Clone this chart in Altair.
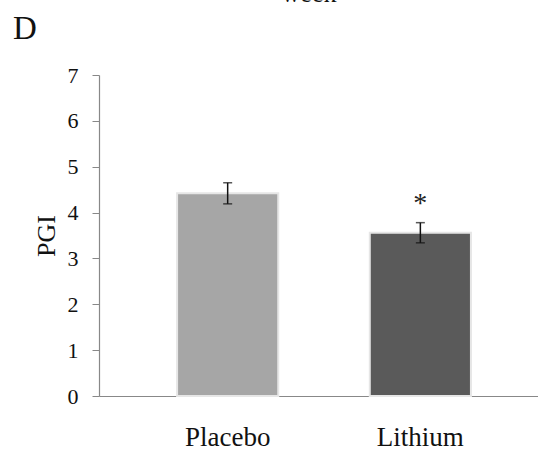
import altair as alt
import pandas as pd

groups = ["Placebo", "Lithium"]
means = [4.42, 3.56]
errs = [0.23, 0.22]
colors = ["#a6a6a6", "#5a5a5a"]
star_group = ["Lithium"]
star_y = [4.32]
y_ticks = [0, 1, 2, 3, 4, 5, 6, 7]

df = pd.DataFrame({
    "group": groups,
    "mean": means,
    "lo": [m - e for m, e in zip(means, errs)],
    "hi": [m + e for m, e in zip(means, errs)],
    "color": colors,
})
star_df = pd.DataFrame({"group": star_group, "y": star_y, "t": ["*"]})

FONT = "Liberation Serif"

xscale = alt.Scale(domain=groups, paddingInner=0.475, paddingOuter=0.3766, align=0.538)
yscale = alt.Scale(domain=[0, 7], nice=False)

x_enc = alt.X("group:N", scale=xscale, sort=groups, title=None,
              axis=alt.Axis(labelAngle=0, labelFont=FONT, labelFontSize=27,
                            labelColor="#111", ticks=False, labelPadding=28,
                            domainColor="#888888", domainWidth=1.2))

bars = alt.Chart(df).mark_bar(stroke="#e6e6e6", strokeWidth=2).encode(
    x=x_enc,
    y=alt.Y("mean:Q", scale=yscale, title="PGI",
            axis=alt.Axis(values=y_ticks, grid=False, labelFont=FONT,
                          labelFontSize=22, labelColor="#111", titleFont=FONT,
                          titleFontSize=26, titleFontWeight="normal",
                          titleColor="#111", titlePadding=8, tickSize=7,
                          tickColor="#888888", domainColor="#888888",
                          domainWidth=1.2, labelPadding=14)),
    color=alt.Color("color:N", scale=None),
)

rule = alt.Chart(df).mark_rule(color="#111", strokeWidth=1.5).encode(
    x=alt.X("group:N", scale=xscale, sort=groups),
    y=alt.Y("lo:Q", scale=yscale),
    y2="hi:Q",
)
caps_hi = alt.Chart(df).mark_tick(color="#111", thickness=1.5, size=9, orient="horizontal").encode(
    x=alt.X("group:N", scale=xscale, sort=groups),
    y=alt.Y("hi:Q", scale=yscale),
)
caps_lo = alt.Chart(df).mark_tick(color="#111", thickness=1.5, size=9, orient="horizontal").encode(
    x=alt.X("group:N", scale=xscale, sort=groups),
    y=alt.Y("lo:Q", scale=yscale),
)
star = alt.Chart(star_df).mark_text(font=FONT, fontSize=28, color="#222", baseline="middle", dy=6).encode(
    x=alt.X("group:N", scale=xscale, sort=groups),
    y=alt.Y("y:Q", scale=yscale),
    text="t:N",
)
label_d = alt.Chart(pd.DataFrame({"t": ["D"]})).mark_text(
    font=FONT, fontSize=33, color="#111", align="left", baseline="alphabetic"
).encode(x=alt.value(-86), y=alt.value(-36), text="t:N")
label_week = alt.Chart(pd.DataFrame({"t": ["week"]})).mark_text(
    font=FONT, fontSize=26, color="#111", align="center", baseline="alphabetic"
).encode(x=alt.value(210), y=alt.value(-73), text="t:N")

chart = alt.layer(bars, rule, caps_hi, caps_lo, star, label_d, label_week).properties(
    width=439, height=321,
    autosize=alt.AutoSizeParams(type="none"),
    padding={"left": 99, "top": 75, "right": 0, "bottom": 56},
).configure(background="white", view=alt.ViewConfig(stroke=None))

chart.save("out.html", embed_options={"renderer": "svg", "actions": False})
